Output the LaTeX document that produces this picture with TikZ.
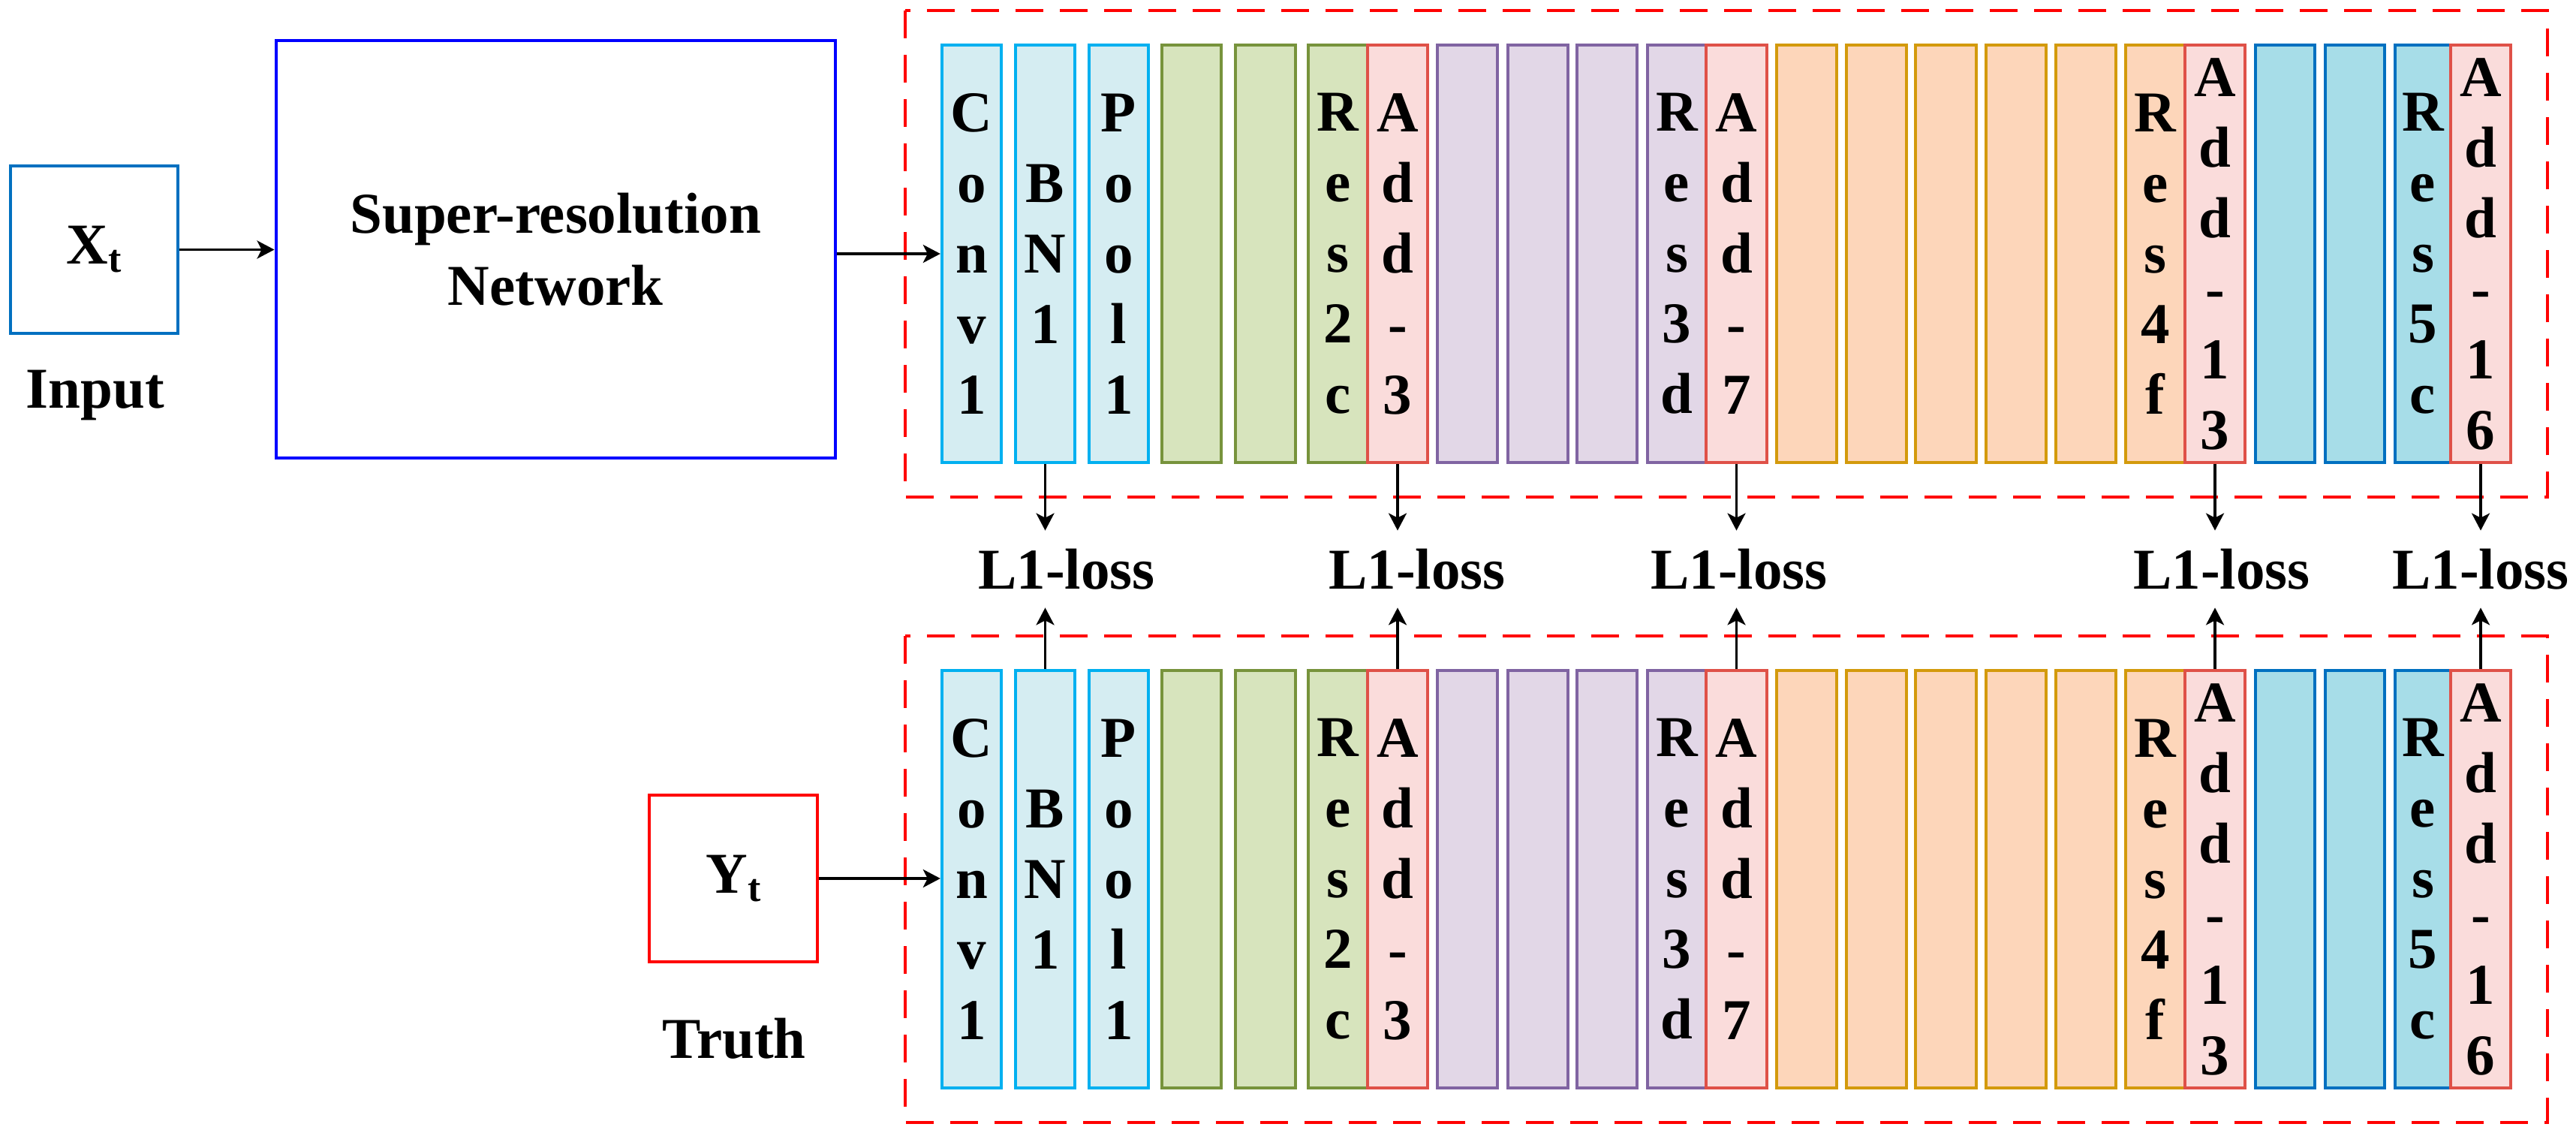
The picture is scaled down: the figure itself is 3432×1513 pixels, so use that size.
\documentclass[tikz,border=0pt]{standalone}
\usepackage{fontspec}
\setmainfont{Liberation Serif}
\usetikzlibrary{arrows.meta}
\definecolor{cyanB}{HTML}{00B0F0}
\definecolor{cyanF}{HTML}{D5EDF2}
\definecolor{greenB}{HTML}{77933C}
\definecolor{greenF}{HTML}{D7E4BD}
\definecolor{purpB}{HTML}{8064A2}
\definecolor{purpF}{HTML}{E2D7E7}
\definecolor{addB}{HTML}{DF5148}
\definecolor{addF}{HTML}{FADCDB}
\definecolor{orB}{HTML}{D39A0C}
\definecolor{orF}{HTML}{FDD6BA}
\definecolor{blB}{HTML}{0070C0}
\definecolor{blF}{HTML}{A7DDE8}
\definecolor{srblue}{HTML}{0000FF}
\definecolor{dred}{HTML}{FF0000}
\tikzset{
  blk/.style={line width=2.2pt, minimum height=278pt, inner sep=0pt, align=center,
    font=\fontsize{38.5}{47}\selectfont\bfseries, text=black},
  cy/.style={draw=cyanB, fill=cyanF},
  gr/.style={draw=greenB, fill=greenF},
  pu/.style={draw=purpB, fill=purpF},
  ad/.style={draw=addB, fill=addF},
  orr/.style={draw=orB, fill=orF},
  bl/.style={draw=blB, fill=blF},
  arr/.style={line width=1.7pt, -{Stealth[length=11.5pt,width=12pt,inset=3pt]}},
  dbox/.style={draw=dred, line width=2pt, dash pattern=on 18.5pt off 11pt},
  lbl/.style={font=\fontsize{38.5}{48}\selectfont\bfseries, inner sep=0pt, align=center},
  lossl/.style={lbl, anchor=base, text height=26pt, text depth=0pt, inner ysep=12.5pt},
  iobox/.style={line width=2pt, inner sep=0pt, font=\fontsize{38.5}{48}\selectfont\bfseries}
}
\newcommand\blkpair[5]{%
  \node[blk,#4,minimum width={(#3-#2)*0.5pt}] (t#1) at ({(#2+#3)/2},338) {#5};
  \node[blk,#4,minimum width={(#3-#2)*0.5pt}] (b#1) at ({(#2+#3)/2},1171) {#5};
}
\newcommand\subt{\raisebox{-5.5pt}{\fontsize{26}{26}\selectfont t}}
\begin{document}
\begin{tikzpicture}[x=0.5pt,y=-0.5pt]
\useasboundingbox (0,0) rectangle (3432,1513);

% dashed frames
\draw[dbox] (1206,14) rectangle (3393.5,662);
\draw[dbox] (1206,847) rectangle (3393.5,1495);

% left side
\node[iobox, draw=blB, minimum width=111.5pt, minimum height=111.5pt] (xt) at (125,332.5) {X\subt};
\node[lbl, anchor=base] (inp) at (127,544) {Input};
\node[iobox, draw=srblue, minimum width=372.75pt, minimum height=277.75pt, align=center,
      font=\fontsize{38.5}{48}\selectfont\bfseries] (sr) at (740.25,332.25) {Super-resolution\\Network};
\node[iobox, draw=dred, minimum width=112pt, minimum height=111pt] (yt) at (977,1170) {Y\subt};
\node[lbl, anchor=base] (truth) at (978,1409) {Truth};

% blocks
\blkpair{conv}{1255}{1334}{cy}{C\\o\\n\\v\\1}
\blkpair{bn}{1353}{1432}{cy}{B\\N\\1}
\blkpair{pool}{1451}{1530}{cy}{P\\o\\o\\l\\1}
\blkpair{ga}{1548}{1627}{gr}{}
\blkpair{gb}{1646}{1726}{gr}{}
\blkpair{res2}{1743}{1822}{gr}{R\\e\\s\\2\\c}
\blkpair{add3}{1822}{1902}{ad}{A\\d\\d\\-\\3}
\blkpair{pa}{1915}{1995}{pu}{}
\blkpair{pb}{2009}{2089}{pu}{}
\blkpair{pc}{2101}{2181}{pu}{}
\blkpair{res3}{2195}{2273}{pu}{R\\e\\s\\3\\d}
\blkpair{add7}{2273}{2354}{ad}{A\\d\\d\\-\\7}
\blkpair{oa}{2367}{2447}{orr}{}
\blkpair{ob}{2460}{2540}{orr}{}
\blkpair{oc}{2552}{2633}{orr}{}
\blkpair{od}{2646}{2726}{orr}{}
\blkpair{oe}{2739}{2819}{orr}{}
\blkpair{res4}{2832}{2911}{orr}{R\\e\\s\\4\\f}
\blkpair{add13}{2911}{2991}{ad}{A\\d\\d\\-\\1\\3}
\blkpair{ba}{3005}{3084}{bl}{}
\blkpair{bb}{3098}{3177}{bl}{}
\blkpair{res5}{3191}{3265}{bl}{R\\e\\s\\5\\c}
\blkpair{add16}{3265}{3345}{ad}{A\\d\\d\\-\\1\\6}

% loss labels
\node[lossl] (la) at (1421,784) {L1-loss};
\node[lossl] (lb) at (1888,784) {L1-loss};
\node[lossl] (lc) at (2317,784) {L1-loss};
\node[lossl] (ld) at (2960,784) {L1-loss};
\node[lossl] (le) at (3305,784) {L1-loss};

% arrows
\draw[arr] (xt.east) -- (xt.east -| sr.west);
\draw[arr] (sr.east |- tconv.west) -- (tconv.west);
\draw[arr] (yt.east) -- (yt.east -| bconv.west);

\draw[arr] (tbn.south) -- (tbn.south |- la.north);
\draw[arr] (tadd3.south) -- (tadd3.south |- lb.north);
\draw[arr] (tadd7.south) -- (tadd7.south |- lc.north);
\draw[arr] (tadd13.south) -- (tadd13.south |- ld.north);
\draw[arr] (tadd16.south) -- (tadd16.south |- le.north);

\draw[arr] (bbn.north) -- (bbn.north |- la.south);
\draw[arr] (badd3.north) -- (badd3.north |- lb.south);
\draw[arr] (badd7.north) -- (badd7.north |- lc.south);
\draw[arr] (badd13.north) -- (badd13.north |- ld.south);
\draw[arr] (badd16.north) -- (badd16.north |- le.south);
\end{tikzpicture}
\end{document}
